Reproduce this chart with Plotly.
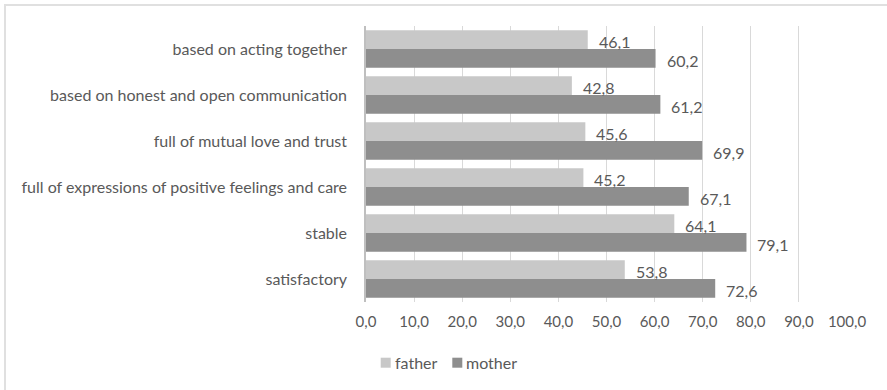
import plotly.graph_objects as go

# Survey results: share of respondents describing the relationship
categories = [
    "based on acting together",
    "based on honest and open communication",
    "full of mutual love and trust",
    "full of expressions of positive feelings and care",
    "stable",
    "satisfactory",
]
father = [46.1, 42.8, 45.6, 45.2, 64.1, 53.8]
mother = [60.2, 61.2, 69.9, 67.1, 79.1, 72.6]
series_names = ["father", "mother"]
x_ticks = [0, 10, 20, 30, 40, 50, 60, 70, 80, 90, 100]

FATHER_COLOR = "#c8c8c8"
MOTHER_COLOR = "#8e8e8e"
TEXT_COLOR = "#595959"
FONT = "Lato"

W, H = 887, 390
ML, MR, MT, MB = 366, 40, 26, 88
PW, PH = W - ML - MR, H - MT - MB


def px_x(px):
    return (px - ML) / PW


def px_y(py):
    return (H - MB - py) / PH


fig = go.Figure()
for name, vals, color in [(series_names[0], father, FATHER_COLOR),
                          (series_names[1], mother, MOTHER_COLOR)]:
    fig.add_trace(go.Bar(
        name=name, y=categories, x=vals, orientation="h",
        marker=dict(color=color, line=dict(width=0)),
        showlegend=False, hoverinfo="x+y",
    ))

# value labels just past the end of each bar
cat_px = PH / len(categories)
bar_off = 0.2025 * cat_px
for vals, dy in [(father, -bar_off), (mother, bar_off)]:
    for c, v in zip(categories, vals):
        fig.add_annotation(
            x=v, y=c, xref="x", yref="y", text=f"{v:.1f}".replace(".", ","),
            showarrow=False, xanchor="left", yanchor="middle",
            xshift=9, yshift=-dy - 2,
            font=dict(family=FONT, size=16, color=TEXT_COLOR),
        )

# legend drawn beneath the axis
legend_items = [(series_names[0], FATHER_COLOR, 380.7), (series_names[1], MOTHER_COLOR, 452.3)]
for name, color, x0 in legend_items:
    fig.add_shape(type="rect", xref="paper", yref="paper",
                  x0=px_x(x0), x1=px_x(x0 + 10), y0=px_y(367.7), y1=px_y(357.7),
                  fillcolor=color, line=dict(width=0))
    fig.add_annotation(x=px_x(x0 + 12), y=px_y(362.7), xref="paper", yref="paper",
                       text=name, showarrow=False, xanchor="left", yanchor="middle",
                       font=dict(family=FONT, size=16, color=TEXT_COLOR))

# chart frame
fig.add_shape(type="rect", xref="paper", yref="paper",
              x0=px_x(5), x1=px_x(W + 5), y0=px_y(H + 5), y1=px_y(5),
              line=dict(color="#e0e0e0", width=2), fillcolor="rgba(0,0,0,0)", layer="below")

fig.update_layout(
    width=W, height=H,
    margin=dict(l=ML, r=MR, t=MT, b=MB, pad=0),
    barmode="group", bargap=0.19, bargroupgap=0,
    separators=",.",
    plot_bgcolor="white", paper_bgcolor="white",
    font=dict(family=FONT, size=16, color=TEXT_COLOR),
    xaxis=dict(
        range=[0, 100], tickvals=x_ticks, tickformat=".1f",
        showgrid=True, gridcolor="#d9d9d9", gridwidth=1,
        zeroline=False, showline=False, ticks="",
        ticklabelstandoff=9,
        tickfont=dict(family=FONT, size=15, color=TEXT_COLOR),
    ),
    yaxis=dict(
        autorange="reversed", type="category",
        showline=True, linecolor="#bfbfbf", linewidth=1.5,
        showgrid=False, ticks="", ticklabelstandoff=14,
        tickfont=dict(family=FONT, size=16, color=TEXT_COLOR),
    ),
)

fig.write_html("out.html")
